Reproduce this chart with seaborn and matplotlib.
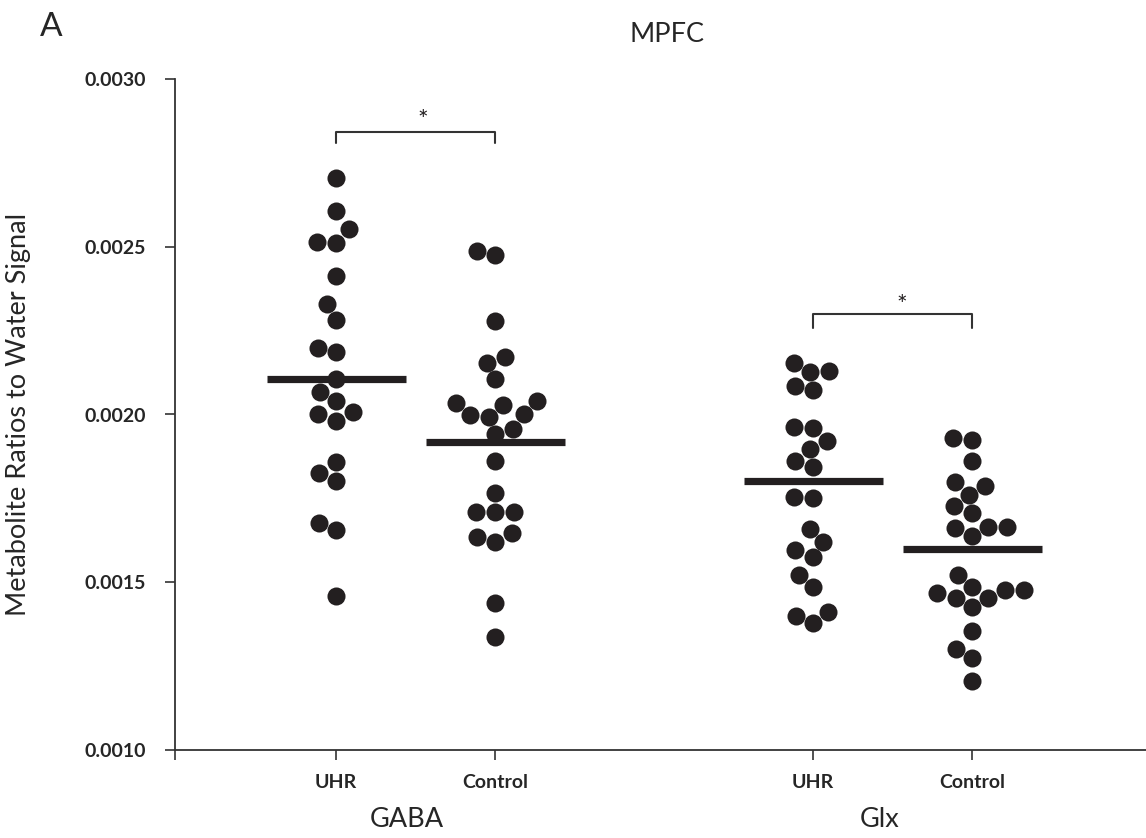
import numpy as np
import pandas as pd
import matplotlib
matplotlib.use("Agg")
import matplotlib.pyplot as plt
import matplotlib.transforms as mtransforms
import seaborn as sns

# ---- data -------------------------------------------------------------
metabolites = ["GABA", "GABA", "Glx", "Glx"]
groups = ["UHR", "Control", "UHR", "Control"]

gaba_uhr = [0.002704, 0.002607, 0.002552, 0.002515, 0.002512, 0.002414,
            0.002330, 0.002282, 0.002199, 0.002187, 0.002107, 0.002068,
            0.002041, 0.002001, 0.002007, 0.001981, 0.001859, 0.001827,
            0.001803, 0.001677, 0.001656, 0.001459]
gaba_control = [0.002487, 0.002475, 0.002279, 0.002172, 0.002154, 0.002105,
                0.002033, 0.002040, 0.002028, 0.002001, 0.001999, 0.001992,
                0.001956, 0.001941, 0.001862, 0.001767, 0.001709, 0.001709,
                0.001709, 0.001634, 0.001646, 0.001621, 0.001437, 0.001336]
glx_uhr = [0.002154, 0.002126, 0.002131, 0.002073, 0.002085, 0.001964,
           0.001959, 0.001921, 0.001896, 0.001862, 0.001843, 0.001750,
           0.001755, 0.001659, 0.001621, 0.001596, 0.001576, 0.001522,
           0.001487, 0.001400, 0.001412, 0.001379]
glx_control = [0.001929, 0.001924, 0.001862, 0.001787, 0.001798, 0.001760,
               0.001707, 0.001727, 0.001666, 0.001666, 0.001663, 0.001639,
               0.001522, 0.001477, 0.001487, 0.001467, 0.001477, 0.001452,
               0.001452, 0.001425, 0.001356, 0.001301, 0.001273, 0.001206]
group_means = [0.002107, 0.001919, 0.001803, 0.001599]

y_ticks = [0.0010, 0.0015, 0.0020, 0.0025, 0.0030]
y_tick_labels = ["0.0010", "0.0015", "0.0020", "0.0025", "0.0030"]

# ---- layout -----------------------------------------------------------
positions = [1, 2, 4, 5]
series = [gaba_uhr, gaba_control, glx_uhr, glx_control]

df = pd.DataFrame({
    "pos": np.concatenate([[p] * len(s) for p, s in zip(positions, series)]),
    "value": np.concatenate(series),
})

sns.set_theme(style="ticks")
plt.rcParams["font.family"] = ["Lato", "DejaVu Sans"]

ink = "#231f20"
text_col = "#262626"
fig = plt.figure(figsize=(11.46, 8.38), dpi=100)
ax = fig.add_axes([175 / 1146, 88 / 838, (1146 - 175) / 1146, 671 / 838])

sns.swarmplot(data=df, x="pos", y="value", native_scale=True, color=ink,
              size=13, linewidth=0, ax=ax, zorder=2)

half = 0.437
ax.hlines(group_means, np.array(positions) - half, np.array(positions) + half,
          color=ink, lw=5.2, zorder=3)

ax.set_ylim(0.0010, 0.0030)
x_left = -0.013
ax.set_xlim(x_left, 6.094)
ax.set_yticks(y_ticks)
ax.set_yticklabels(y_tick_labels, fontweight="bold", fontsize=14, color=text_col)
ax.set_xticks([x_left] + positions)
ax.set_xticklabels([""] + groups, fontweight="bold", fontsize=14, color=text_col)
ax.tick_params(axis="y", direction="out", length=7, width=1.2, pad=14, color="#333333")
ax.tick_params(axis="x", direction="out", length=7, width=1.2, pad=10, color="#333333")
ax.set_xlabel("")
ax.set_ylabel("Metabolite Ratios to Water Signal", fontsize=19.5, color=text_col)
ax.yaxis.set_label_coords(-0.148, 0.5)
for side in ("top", "right"):
    ax.spines[side].set_visible(False)
for side in ("left", "bottom"):
    ax.spines[side].set_linewidth(1.3)
    ax.spines[side].set_color("#333333")

# group names under the tick labels
trans = mtransforms.blended_transform_factory(ax.transData, ax.transAxes)
for name, xc in (("GABA", 1.447), ("Glx", 4.42)):
    ax.text(xc, -0.104, name, transform=trans, ha="center", va="center",
            fontsize=19.5, color=text_col)

# significance brackets
def bracket(x0, x1, y, drop, star_x, star_y):
    ax.plot([x0, x0, x1, x1], [y - drop, y, y, y - drop], color="#333333",
            lw=1.5, clip_on=False, zorder=4)
    ax.text(star_x, star_y, "*", ha="center", va="center", fontsize=18,
            color=ink)

bracket(1, 2, 0.002843, 0.000034, 1.547, 0.002876)
bracket(4, 5, 0.002299, 0.000040, 4.558, 0.002325)

fig.text(667 / 1146, 1 - 35 / 838, "MPFC", ha="center", va="center",
         fontsize=19.5, color=text_col)
fig.text(51 / 1146, 1 - 27 / 838, "A", ha="center", va="center",
         fontsize=24, color=text_col)

fig.savefig("out.png", dpi=100)
